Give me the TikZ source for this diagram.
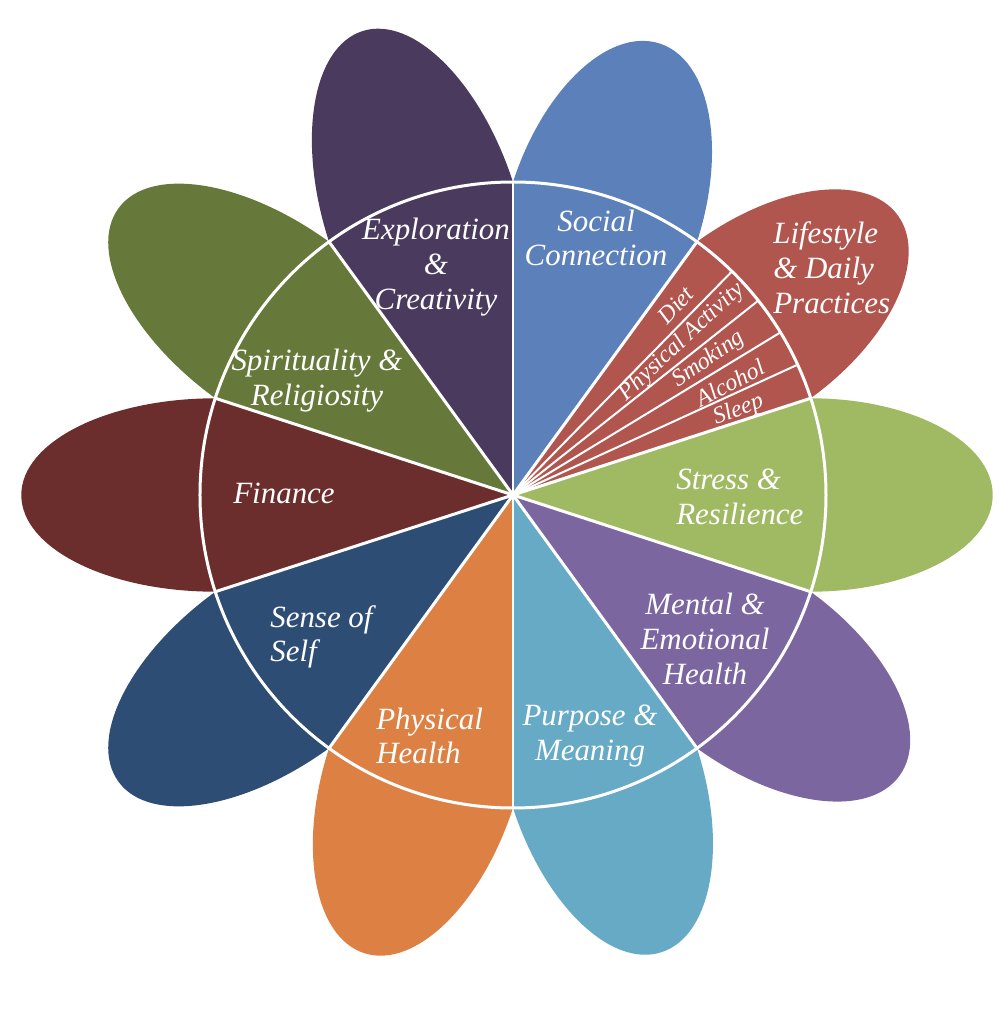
\documentclass[tikz,border=0pt]{standalone}
\usepackage{fontspec}
\setmainfont{Liberation Serif}
\begin{document}
\begin{tikzpicture}[x=0.02cm,y=0.02cm]
\definecolor{cStress}{HTML}{A0BA64}
\definecolor{cLife}{HTML}{B1554F}
\definecolor{cSocial}{HTML}{5B80BA}
\definecolor{cExplore}{HTML}{4A3A5E}
\definecolor{cSpirit}{HTML}{66793A}
\definecolor{cFinance}{HTML}{6B2E2C}
\definecolor{cSelf}{HTML}{2D4D75}
\definecolor{cPhys}{HTML}{DC8143}
\definecolor{cPurpose}{HTML}{67AAC6}
\definecolor{cMental}{HTML}{7B66A0}
\tikzset{
  lbl/.style={text=white, font=\fontsize{17.6pt}{19.8pt}\selectfont\itshape, inner sep=0pt, align=center},
  lbll/.style={lbl, align=left, anchor=west},
  sublbl/.style={text=white, font=\fontsize{13.6pt}{14pt}\selectfont\itshape, inner sep=0pt},
  sepline/.style={white, line width=0.06cm},
  subsep/.style={white, line width=0.04cm}
}
\useasboundingbox (-513,-529) rectangle (486,495);
\def\R{313}
\def\D{297.7}
\def\B{96.7}
% petals
\foreach \ang/\a/\col in {0/182/cStress, 36/178/cLife, 72/177/cSocial, 108/190/cExplore,
  144/190/cSpirit, 180/194/cFinance, 216/190/cSelf, 252/184/cPhys, 288/183/cPurpose, 324/180/cMental}{
  \fill[\col, rotate=\ang] (\D,0) ellipse [x radius=\a, y radius=\B];
}
% sectors
\foreach \ang/\col in {0/cStress, 36/cLife, 72/cSocial, 108/cExplore, 144/cSpirit,
  180/cFinance, 216/cSelf, 252/cPhys, 288/cPurpose, 324/cMental}{
  \fill[\col] (0,0) -- ({\ang-18}:\R) arc[start angle={\ang-18}, end angle={\ang+18}, radius=\R] -- cycle;
}
\coordinate (O) at (0,0);
\foreach \i in {0,...,9}{ \coordinate (b\i) at ({18+36*\i}:\R); }
\foreach \i in {0,...,9}{ \draw[sepline] (O) -- (b\i); }
\draw[sepline] (O) circle[radius=\R];
\foreach \ang [count=\i] in {24.6,31.3,38.4,45.6}{ \coordinate (s\i) at (\ang:\R); }
\foreach \i in {1,...,4}{ \draw[subsep] (O) -- (s\i); }
% sub labels
\node[sublbl, rotate=47] (diet) at (49.4:250) {Diet};
\node[sublbl, rotate=43] (physact) at (42.2:228) {Physical Activity};
\node[sublbl, rotate=35] (smoking) at (34.7:238) {Smoking};
\node[sublbl, rotate=28] (alcohol) at (27.3:244) {Alcohol};
\node[sublbl, rotate=21] (sleep) at (20.6:241) {Sleep};
% main labels
\node[lbl] (social) at (83,257) {Social\\Connection};
\node[lbl] (explore) at (-77,228) {Exploration\\\&\\Creativity};
\node[lbl] (spirit) at (-196,114) {Spirituality \&\\Religiosity};
\node[lbl] (finance) at (-229,2) {Finance};
\node[lbll] (life) at (260,227) {Lifestyle\\\& Daily\\Practices};
\node[lbll] (stress) at (163,-2) {Stress \&\\Resilience};
\node[lbl] (mental) at (192,-144) {Mental \&\\Emotional\\Health};
\node[lbl] (purpose) at (77,-241) {Purpose \&\\Meaning};
\node[lbll] (phys) at (-137,-241) {Physical\\Health};
\node[lbll] (self) at (-243,-142) {Sense of\\Self};
\end{tikzpicture}
\end{document}
